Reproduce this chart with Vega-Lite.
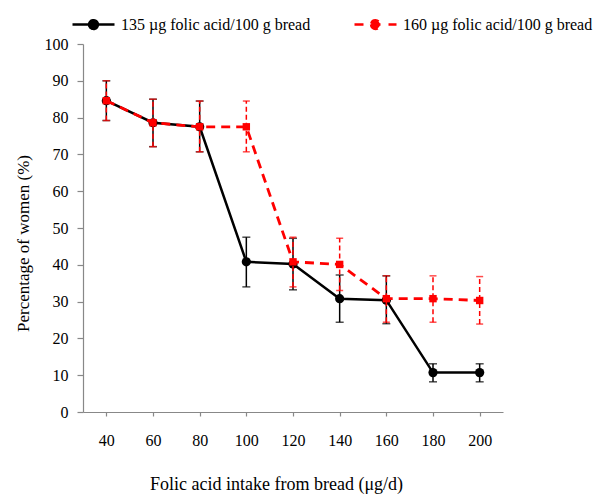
{
  "$schema": "https://vega.github.io/schema/vega-lite/v6.json",
  "width": 420,
  "height": 368,
  "autosize": {"type": "none"},
  "padding": {"left": 83, "top": 44, "right": 97, "bottom": 85},
  "config": {
    "view": {"stroke": null},
    "font": "Liberation Serif",
    "axis": {"grid": false, "domainColor": "#888888", "tickColor": "#888888", "labelColor": "#000000", "titleColor": "#000000", "labelFont": "Liberation Serif", "titleFont": "Liberation Serif", "labelFontSize": 16, "titleFontSize": 17, "titleFontWeight": "normal", "domainWidth": 1.2, "tickWidth": 1.2}
  },
  "data": {"values": [
    {"x": 40, "series": "135 µg folic acid/100 g bread", "y": 84.6, "lo": 79.2, "hi": 90},
    {"x": 60, "series": "135 µg folic acid/100 g bread", "y": 78.6, "lo": 72.1, "hi": 85},
    {"x": 80, "series": "135 µg folic acid/100 g bread", "y": 77.5, "lo": 70.7, "hi": 84.5},
    {"x": 100, "series": "135 µg folic acid/100 g bread", "y": 40.8, "lo": 34, "hi": 47.5},
    {"x": 120, "series": "135 µg folic acid/100 g bread", "y": 40.2, "lo": 33.2, "hi": 47.2},
    {"x": 140, "series": "135 µg folic acid/100 g bread", "y": 30.8, "lo": 24.4, "hi": 37.2},
    {"x": 160, "series": "135 µg folic acid/100 g bread", "y": 30.4, "lo": 24, "hi": 37},
    {"x": 180, "series": "135 µg folic acid/100 g bread", "y": 10.7, "lo": 8.2, "hi": 13.1},
    {"x": 200, "series": "135 µg folic acid/100 g bread", "y": 10.7, "lo": 8.2, "hi": 13.1},
    {"x": 40, "series": "160 µg folic acid/100 g bread", "y": 84.6, "lo": 79.2, "hi": 90},
    {"x": 60, "series": "160 µg folic acid/100 g bread", "y": 78.6, "lo": 72.1, "hi": 85},
    {"x": 80, "series": "160 µg folic acid/100 g bread", "y": 77.5, "lo": 70.7, "hi": 84.5},
    {"x": 100, "series": "160 µg folic acid/100 g bread", "y": 77.5, "lo": 70.7, "hi": 84.5},
    {"x": 120, "series": "160 µg folic acid/100 g bread", "y": 40.8, "lo": 34, "hi": 47.5},
    {"x": 140, "series": "160 µg folic acid/100 g bread", "y": 40.1, "lo": 33, "hi": 47.2},
    {"x": 160, "series": "160 µg folic acid/100 g bread", "y": 30.8, "lo": 24.4, "hi": 37},
    {"x": 180, "series": "160 µg folic acid/100 g bread", "y": 30.8, "lo": 24.4, "hi": 37},
    {"x": 200, "series": "160 µg folic acid/100 g bread", "y": 30.3, "lo": 23.9, "hi": 36.8}
  ]},
  "encoding": {
    "x": {"field": "x", "type": "ordinal", "scale": {"type": "point", "padding": 0.5},
      "axis": {"title": "Folic acid intake from bread (μg/d)", "labelAngle": 0, "tickSize": 4, "labelPadding": 16, "titleFontSize": 18, "titleX": 193, "titleY": 77, "titleAlign": "center", "titleBaseline": "alphabetic"}}
  },
  "layer": [
    {"transform": [{"filter": "indexof(datum.series, '135') >= 0"}],
     "mark": {"type": "rule", "color": "#000000", "strokeWidth": 1.5},
     "encoding": {"y": {"field": "lo", "type": "quantitative", "scale": {"domain": [0, 100]},
        "axis": {"title": "Percentage of women (%)", "tickCount": 10, "tickSize": 6, "labelPadding": 9, "titleX": -60, "titleY": 199, "titleAngle": -90, "titleAlign": "center", "titleBaseline": "middle"}},
       "y2": {"field": "hi"}}},
    {"transform": [{"filter": "indexof(datum.series, '135') >= 0"}],
     "mark": {"type": "tick", "color": "#000000", "size": 8, "thickness": 1.5, "orient": "horizontal"},
     "encoding": {"y": {"field": "lo", "type": "quantitative"}}},
    {"transform": [{"filter": "indexof(datum.series, '135') >= 0"}],
     "mark": {"type": "tick", "color": "#000000", "size": 8, "thickness": 1.5, "orient": "horizontal"},
     "encoding": {"y": {"field": "hi", "type": "quantitative"}}},
    {"transform": [{"filter": "indexof(datum.series, '135') >= 0"}],
     "mark": {"type": "line", "strokeWidth": 2.5},
     "encoding": {"y": {"field": "y", "type": "quantitative"},
       "color": {"field": "series", "type": "nominal",
         "scale": {"domain": ["135 µg folic acid/100 g bread", "160 µg folic acid/100 g bread"], "range": ["#000000", "#ff0000"]},
         "legend": {"title": null, "orient": "none", "legendX": -12, "legendY": -42, "direction": "horizontal", "columnPadding": 38, "padding": 0,
           "labelFont": "Liberation Serif", "labelFontSize": 16, "labelColor": "#000000", "labelLimit": 400, "labelOffset": 5,
           "symbolType": "M-1,0H1M-0.21,0A0.21,0.21,0,1,0,0.21,0A0.21,0.21,0,1,0,-0.21,0", "symbolSize": 1764, "symbolStrokeWidth": 2.5,
           "encode": {"symbols": {"update": {
             "fill": {"signal": "indexof(datum.value, '135') >= 0 ? '#000000' : '#ff0000'"},
             "strokeDash": {"signal": "indexof(datum.value, '135') >= 0 ? [1, 0] : [9, 8]"}}}}}}}},
    {"transform": [{"filter": "indexof(datum.series, '135') >= 0"}],
     "mark": {"type": "point", "shape": "circle", "filled": true, "size": 85, "opacity": 1, "color": "#000000"},
     "encoding": {"y": {"field": "y", "type": "quantitative"}}},
    {"transform": [{"filter": "indexof(datum.series, '160') >= 0"}],
     "mark": {"type": "rule", "color": "#ff0000", "strokeWidth": 1.5, "strokeDash": [5, 3]},
     "encoding": {"y": {"field": "lo", "type": "quantitative"}, "y2": {"field": "hi"}}},
    {"transform": [{"filter": "indexof(datum.series, '160') >= 0"}],
     "mark": {"type": "tick", "color": "#ff0000", "size": 7, "thickness": 1.5, "orient": "horizontal"},
     "encoding": {"y": {"field": "lo", "type": "quantitative"}}},
    {"transform": [{"filter": "indexof(datum.series, '160') >= 0"}],
     "mark": {"type": "tick", "color": "#ff0000", "size": 7, "thickness": 1.5, "orient": "horizontal"},
     "encoding": {"y": {"field": "hi", "type": "quantitative"}}},
    {"transform": [{"filter": "indexof(datum.series, '160') >= 0"}],
     "mark": {"type": "line", "strokeWidth": 2.8, "strokeDash": [9, 6]},
     "encoding": {"y": {"field": "y", "type": "quantitative"},
       "color": {"field": "series", "type": "nominal"}}},
    {"transform": [{"filter": "indexof(datum.series, '160') >= 0"}],
     "mark": {"type": "point", "shape": "square", "filled": true, "size": 55, "opacity": 1, "color": "#ff0000"},
     "encoding": {"y": {"field": "y", "type": "quantitative"}}}
  ]
}
